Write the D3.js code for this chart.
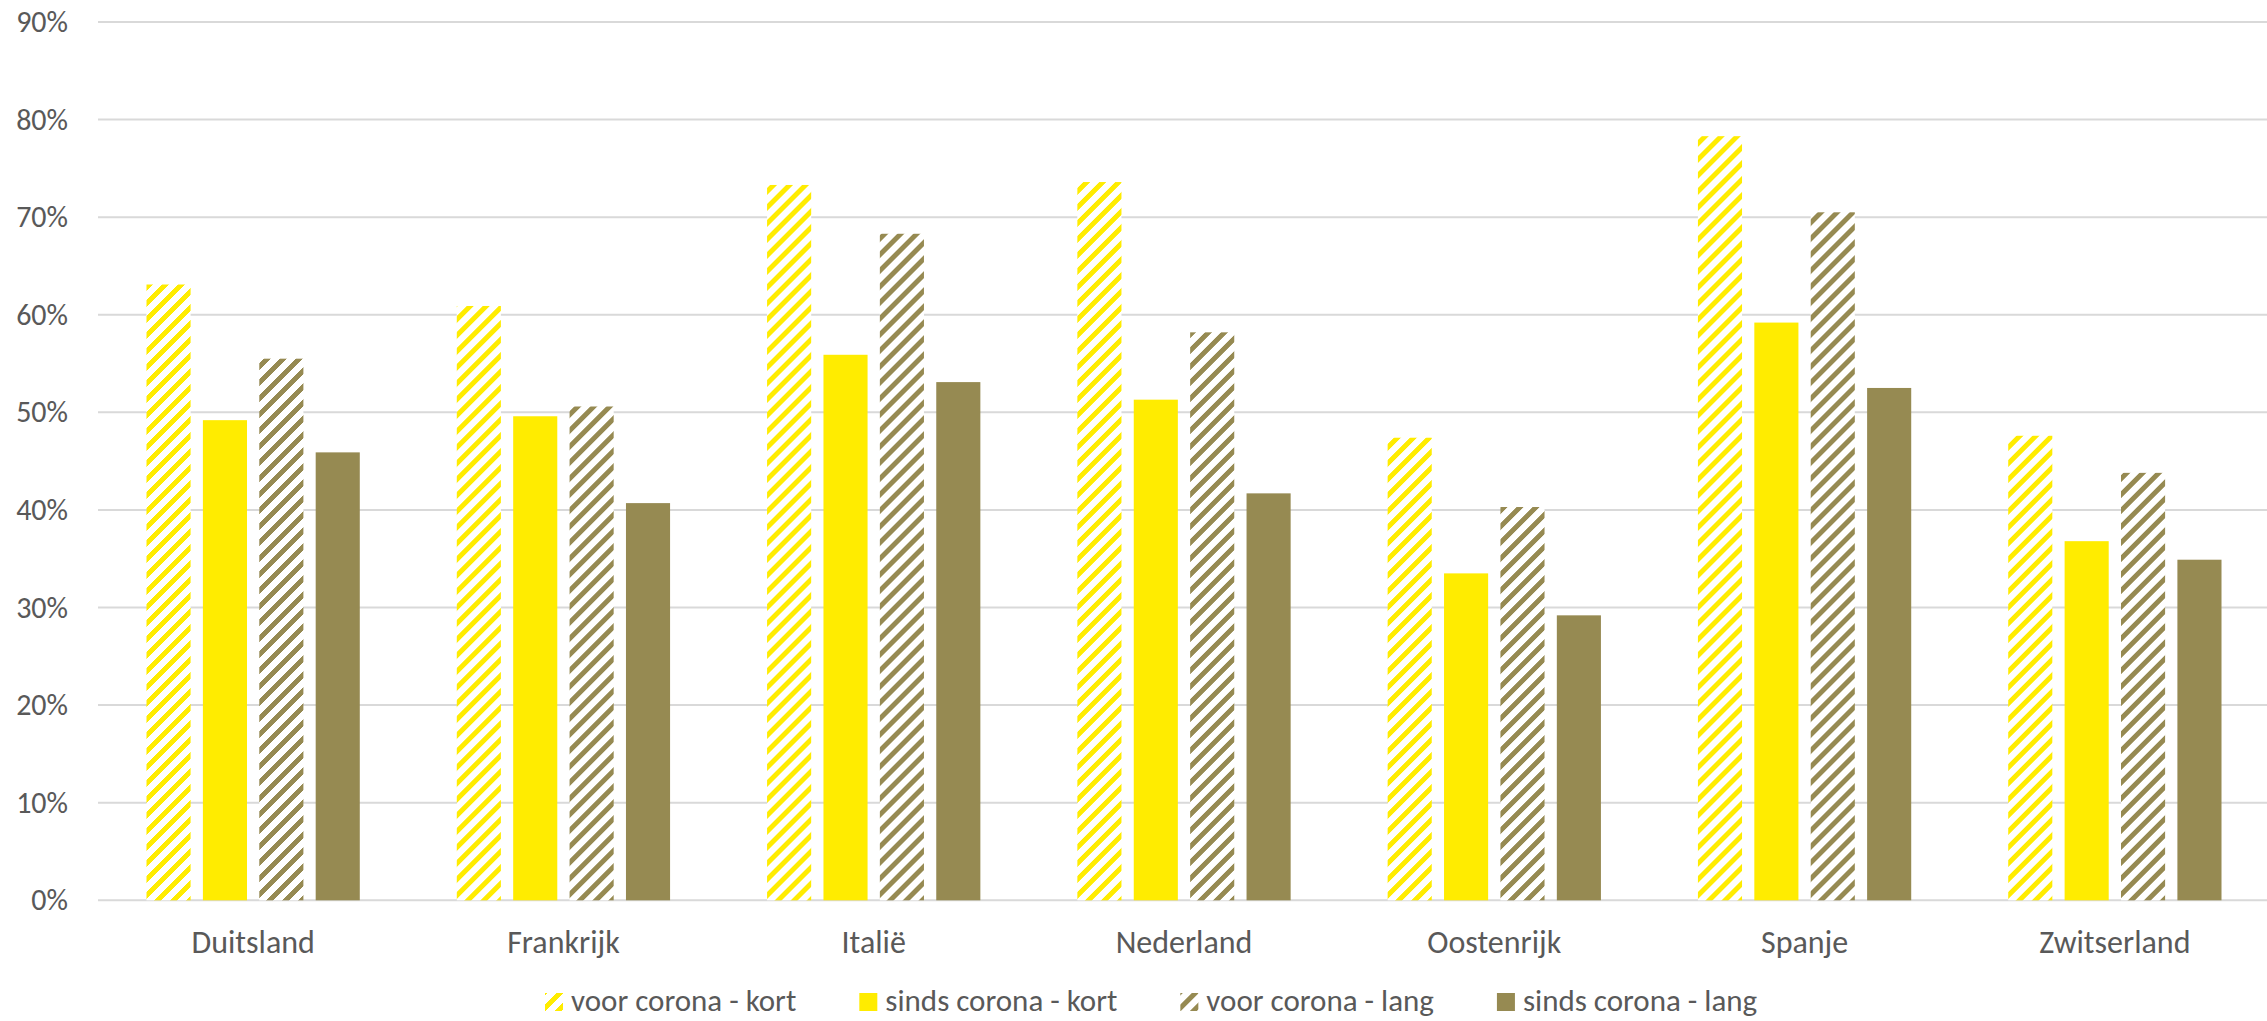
<!DOCTYPE html>
<html>
<head>
<meta charset="utf-8">
<script src="https://cdn.jsdelivr.net/npm/d3@7"></script>
<style>
  html, body { margin: 0; padding: 0; background: #fff; }
  svg { display: block; }
  text { font-family: Carlito, Lato, "Open Sans", sans-serif; fill: #595959; }
</style>
</head>
<body>
<svg id="chart" width="2267" height="1021"></svg>
<script>
const categories = ["Duitsland", "Frankrijk", "Italië", "Nederland", "Oostenrijk", "Spanje", "Zwitserland"];
const seriesNames = ["voor corona - kort", "sinds corona - kort", "voor corona - lang", "sinds corona - lang"];
const voorKort  = [0.631, 0.609, 0.733, 0.736, 0.474, 0.783, 0.476];
const sindsKort = [0.492, 0.496, 0.559, 0.513, 0.335, 0.592, 0.368];
const voorLang  = [0.555, 0.506, 0.683, 0.582, 0.403, 0.705, 0.438];
const sindsLang = [0.459, 0.407, 0.531, 0.417, 0.292, 0.525, 0.349];
const yTicks = [0, 0.1, 0.2, 0.3, 0.4, 0.5, 0.6, 0.7, 0.8, 0.9];

const seriesValues = [voorKort, sindsKort, voorLang, sindsLang];
const YELLOW = "#FFEC00", OLIVE = "#968A52";
const seriesStyle = [
  { color: YELLOW, hatched: true },
  { color: YELLOW, hatched: false },
  { color: OLIVE, hatched: true },
  { color: OLIVE, hatched: false }
];

const svg = d3.select("#chart");
const W = 2267, H = 1021;
const plotLeft = 98, plotRight = 2270;
const y0 = 900.3, yTop = 22;
const FONT = "Carlito, Lato, 'Open Sans', sans-serif";

// patterns
const defs = svg.append("defs");
seriesStyle.forEach((s, i) => {
  if (!s.hatched) return;
  const p = defs.append("pattern")
    .attr("id", "hatch" + i)
    .attr("patternUnits", "userSpaceOnUse")
    .attr("width", 16).attr("height", 16);
  p.append("rect").attr("width", 16).attr("height", 16).attr("fill", "#fff");
  p.append("path")
    .attr("d", "M0,16 L16,0 M-4,4 L4,-4 M12,20 L20,12")
    .attr("stroke", s.color)
    .attr("stroke-width", 5.2)
    .attr("shape-rendering", "crispEdges");
});
const fillFor = i => seriesStyle[i].hatched ? `url(#hatch${i})` : seriesStyle[i].color;

const x0 = d3.scaleBand().domain(categories).range([plotLeft, plotRight]);
const outer = 48.5;
const x1 = d3.scaleBand().domain(d3.range(seriesNames.length))
  .range([outer, x0.bandwidth() - outer]).paddingInner(0.218);
const y = d3.scaleLinear().domain([0, 0.9]).range([y0, yTop]);

// gridlines
svg.append("g").selectAll("line").data(yTicks).join("line")
  .attr("x1", plotLeft).attr("x2", W)
  .attr("y1", d => y(d)).attr("y2", d => y(d))
  .attr("stroke", "#D9D9D9").attr("stroke-width", 2);

// y tick labels
const yAxis = d3.axisLeft(y).tickValues(yTicks).tickFormat(d3.format(".0%")).tickSize(0).tickPadding(0);
const ya = svg.append("g").attr("transform", "translate(68,0)").call(yAxis);
ya.select(".domain").remove();
ya.selectAll("text").attr("font-size", 30).attr("fill", "#595959")
  .style("font-family", FONT);

// bars
const groups = svg.append("g").selectAll("g").data(categories).join("g")
  .attr("transform", c => `translate(${x0(c)},0)`);
groups.selectAll("rect")
  .data((c, ci) => seriesValues.map((vals, si) => ({ si, v: vals[ci] })))
  .join("rect")
  .attr("x", d => x1(d.si))
  .attr("width", x1.bandwidth())
  .attr("y", d => y(d.v))
  .attr("height", d => y0 - y(d.v))
  .attr("fill", d => fillFor(d.si));

// x axis labels
const xAxis = d3.axisBottom(x0).tickSize(0).tickPadding(0);
const xa = svg.append("g").attr("transform", `translate(0,${y0})`).call(xAxis);
xa.select(".domain").remove();
xa.selectAll("text").attr("font-size", 32).attr("dy", null).attr("y", 53)
  .attr("fill", "#595959")
  .style("font-family", FONT);

// legend
const legend = svg.append("g");
let lx = 545;
seriesNames.forEach((name, i) => {
  const g = legend.append("g").attr("transform", `translate(${lx},0)`);
  g.append("rect").attr("x", 0).attr("y", 993).attr("width", 18).attr("height", 18)
    .attr("fill", fillFor(i));
  const t = g.append("text").attr("x", 26).attr("y", 1011)
    .attr("font-size", 31).style("font-family", FONT).text(name);
  const w = t.node().getComputedTextLength();
  lx += 26 + w + 63;
});
</script>
</body>
</html>
